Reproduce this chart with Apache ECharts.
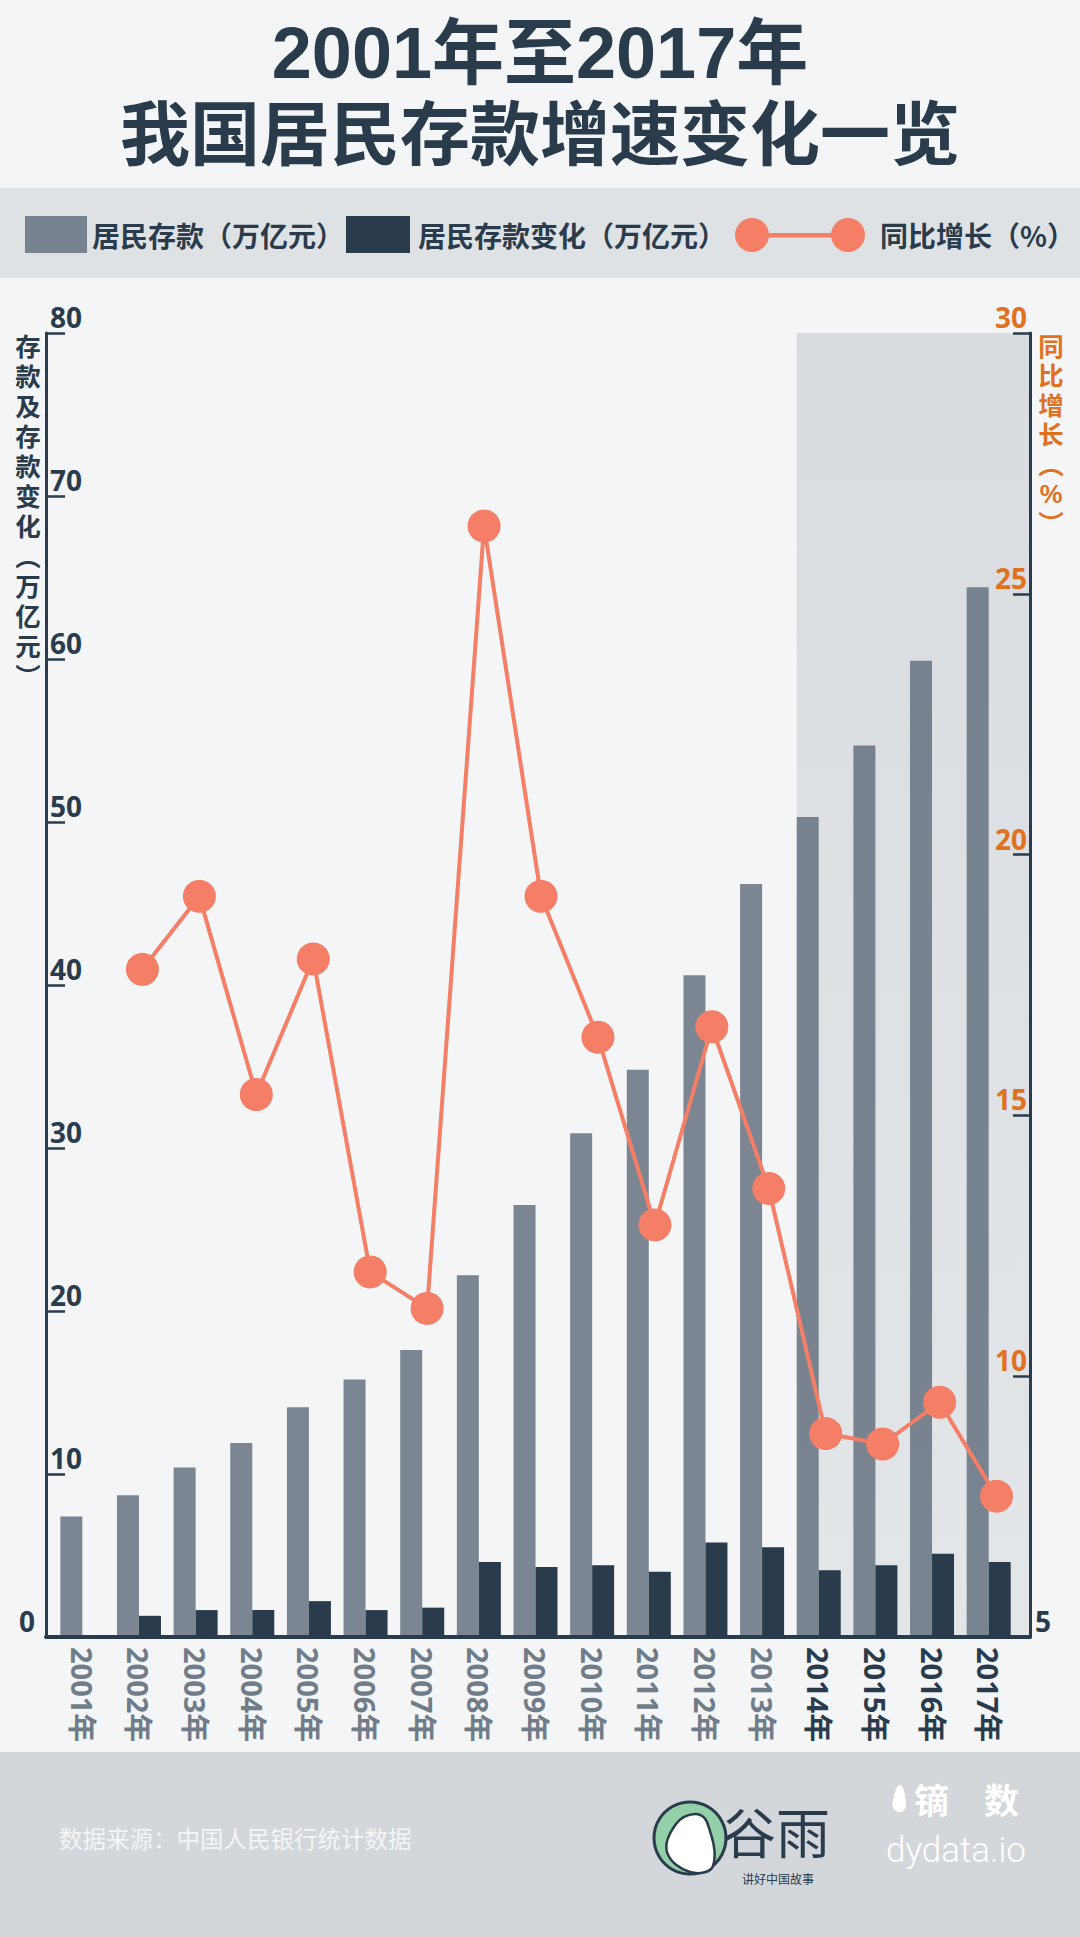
<!DOCTYPE html>
<html>
<head>
<meta charset="utf-8">
<script src="https://cdn.jsdelivr.net/npm/echarts@6/dist/echarts.min.js"></script>
<style>
html,body{margin:0;padding:0;background:#f4f5f7;}
#c{width:1080px;height:1937px;}
</style>
</head>
<body>
<div id="c"></div>
<script>
// ---------- data ----------
const years = ['2001年','2002年','2003年','2004年','2005年','2006年','2007年','2008年','2009年',
  '2010年','2011年','2012年','2013年','2014年','2015年','2016年','2017年'];
const deposits = [7.4, 8.7, 10.4, 11.9, 14.1, 15.8, 17.6, 22.2, 26.5, 30.9, 34.8, 40.6, 46.2, 50.3, 54.7, 59.9, 64.4];
const depositChange = ['-', 1.3, 1.65, 1.65, 2.2, 1.65, 1.8, 4.6, 4.3, 4.4, 4.0, 5.8, 5.5, 4.1, 4.4, 5.1, 4.6];
const yoyGrowth = ['-', 17.8, 19.2, 15.4, 18.0, 12.0, 11.3, 26.3, 19.2, 16.5, 12.9, 16.7, 13.6, 8.9, 8.7, 9.5, 7.7];
const seriesNames = ['居民存款（万亿元）', '居民存款变化（万亿元）', '同比增长（%）'];
const leftTicks = [0, 80, 10];   // min, max, interval
const rightTicks = [5, 30, 5];   // min, max, interval
const highlightYears = ['2014年','2015年','2016年','2017年'];

// ---------- styles ----------
const DARK = '#2a3b4b';
const GRAY_TXT = '#707c88';
const ORANGE = '#e0711f';
const LINE = '#f47e66';
const BAR_W = 22;
const CJK = '"Noto Sans CJK SC", "Noto Sans", sans-serif';
const TIGHT = '"Liberation Sans", "Noto Sans CJK SC", sans-serif';
const NUM = '"Noto Sans", "Noto Sans CJK SC", sans-serif';
const LINE_ICON = 'path://M17,0 A17,17 0 1,1 17,34 A17,17 0 1,1 17,0 Z M113,0 A17,17 0 1,1 113,34 A17,17 0 1,1 113,0 Z M28,15 L102,15 L102,19.5 L28,19.5 Z';

const chart = echarts.init(document.getElementById('c'), null, {renderer: 'svg', width: 1080, height: 1937});

const legendText = {color: DARK, fontSize: 28, fontWeight: 'bold', fontFamily: CJK};
const gridTop = 333, gridBottom = 300;

const option = {
  animation: false,
  backgroundColor: '#f4f5f7',
  grid: [
    {left: 54, right: 63, top: gridTop, bottom: gridBottom, containLabel: false},
    {left: 57, right: 55, top: gridTop, bottom: gridBottom, containLabel: false},
    {left: 46, right: 50, top: gridTop, bottom: gridBottom, containLabel: false}
  ],
  legend: [
    {data: [seriesNames[0]], left: 25, top: 216, padding: 0, itemWidth: 62, itemHeight: 37, icon: 'rect',
      selectedMode: false, textStyle: legendText},
    {data: [seriesNames[1]], left: 346, top: 216, padding: 0, itemWidth: 64, itemHeight: 37, icon: 'rect',
      selectedMode: false, textStyle: Object.assign({}, legendText, {padding: [0, 0, 0, 3]})},
    {data: [seriesNames[2]], left: 735, top: 218, padding: 0, itemWidth: 130, itemHeight: 34, icon: LINE_ICON,
      selectedMode: false, textStyle: Object.assign({}, legendText, {padding: [0, 0, 0, 10]})}
  ],
  xAxis: [
    {gridIndex: 0, type: 'category', data: years, boundaryGap: true, z: 10,
      axisLine: {show: false}, axisTick: {show: false}, splitLine: {show: false},
      axisLabel: {interval: 0, rotate: -90, margin: 10, fontSize: 29, fontWeight: 'bold', fontFamily: NUM,
        color: function (v) { return highlightYears.indexOf(v) >= 0 ? DARK : GRAY_TXT; }}},
    {gridIndex: 1, type: 'category', data: years, boundaryGap: true, show: false},
    {gridIndex: 2, type: 'value', min: 0, max: 1, z: 10,
      axisLine: {show: true, onZero: false, lineStyle: {color: DARK, width: 4}},
      axisTick: {show: false}, axisLabel: {show: false}, splitLine: {show: false}}
  ],
  yAxis: [
    {gridIndex: 0, type: 'value', position: 'left', offset: 8, z: 10,
      min: leftTicks[0], max: leftTicks[1], interval: leftTicks[2],
      axisLine: {show: true, lineStyle: {color: DARK, width: 3}},
      axisTick: {show: true, inside: true, length: 19, lineStyle: {color: DARK, width: 2.5}},
      splitLine: {show: false},
      axisLabel: {show: true, inside: false, margin: -36, align: 'right', verticalAlign: 'bottom',
        showMinLabel: true, showMaxLabel: true,
        color: DARK, fontSize: 28, fontWeight: 'bold', fontFamily: NUM, lineHeight: 32,
        formatter: function (v) { return v === leftTicks[0] ? '{z|' + v + '}' : String(v); },
        rich: {z: {padding: [0, 47, 0, 0], color: DARK, fontSize: 28, fontWeight: 'bold', fontFamily: NUM, lineHeight: 32}}}},
    {gridIndex: 1, type: 'value', position: 'right', offset: 5, z: 10,
      min: rightTicks[0], max: rightTicks[1], interval: rightTicks[2],
      axisLine: {show: true, lineStyle: {color: DARK, width: 3}},
      axisTick: {show: true, inside: true, length: 17, lineStyle: {color: DARK, width: 2.5}},
      splitLine: {show: false},
      axisLabel: {show: true, inside: false, margin: -35, align: 'left', verticalAlign: 'bottom',
        showMinLabel: true, showMaxLabel: true,
        color: ORANGE, fontSize: 28, fontWeight: 'bold', fontFamily: NUM, lineHeight: 32,
        formatter: function (v) { return v === rightTicks[0] ? '{d|' + v + '}' : String(v); },
        rich: {d: {padding: [0, 0, 0, 40], color: DARK, fontSize: 28, fontWeight: 'bold', fontFamily: NUM, lineHeight: 32}}}},
    {gridIndex: 2, type: 'value', min: 0, max: 1, show: false}
  ],
  series: [
    {
      type: 'custom', xAxisIndex: 0, yAxisIndex: 0, z: 1, silent: true,
      data: [[highlightYears[0], leftTicks[1]]],
      renderItem: function (params, api) {
        const top = api.coord([api.value(0), api.value(1)]);
        const base = api.coord([api.value(0), leftTicks[0]]);
        const cs = params.coordSys;
        const x0 = top[0] - BAR_W;
        const x1 = cs.x + cs.width + 13;
        return {
          type: 'rect',
          shape: {x: x0, y: top[1], width: x1 - x0, height: base[1] - top[1]},
          style: {fill: {type: 'linear', x: 0, y: 0, x2: 0, y2: 1,
            colorStops: [{offset: 0, color: '#d8dce0'}, {offset: 1, color: '#e3e6e9'}]}}
        };
      }
    },
    {name: seriesNames[0], type: 'bar', xAxisIndex: 0, yAxisIndex: 0, data: deposits,
      barWidth: BAR_W, barGap: '0%', z: 2, itemStyle: {color: '#606e7b', opacity: 0.82}},
    {name: seriesNames[1], type: 'bar', xAxisIndex: 0, yAxisIndex: 0, data: depositChange,
      barWidth: BAR_W, barGap: '0%', z: 2, itemStyle: {color: DARK}},
    {name: seriesNames[2], type: 'line', xAxisIndex: 1, yAxisIndex: 1, data: yoyGrowth,
      symbol: 'circle', symbolSize: 33, z: 5,
      lineStyle: {color: LINE, width: 4}, itemStyle: {color: LINE}}
  ],
  graphic: [
    {type: 'rect', z: -1, shape: {x: 0, y: 188, width: 1080, height: 90}, style: {fill: '#dfe2e5'}},
    {type: 'rect', z: -1, shape: {x: 0, y: 1752, width: 1080, height: 185}, style: {fill: '#d3d7db'}},
    {type: 'text', x: 540, y: 53, style: {text: '2001年至2017年', fill: DARK, fontSize: 72, fontWeight: 'bold',
      fontFamily: TIGHT, lineHeight: 80, align: 'center', verticalAlign: 'middle'}},
    {type: 'text', x: 540, y: 136, style: {text: '我国居民存款增速变化一览', fill: DARK, fontSize: 70, fontWeight: 'bold',
      fontFamily: TIGHT, lineHeight: 78, align: 'center', verticalAlign: 'middle'}},
    {type: 'text', x: 28, y: 332, style: {text: '存\n款\n及\n存\n款\n变\n化\n︵\n万\n亿\n元\n︶', fill: DARK,
      fontSize: 25.5, fontWeight: 'bold', fontFamily: TIGHT, lineHeight: 30, align: 'center', verticalAlign: 'top'}},
    {type: 'text', x: 1051, y: 332, style: {text: '同\n比\n增\n长\n︵\n%\n︶', fill: ORANGE,
      fontSize: 25.5, fontWeight: 'bold', fontFamily: TIGHT, lineHeight: 29.5, align: 'center', verticalAlign: 'top'}},
    {type: 'text', x: 59, y: 1838, style: {text: '数据来源：中国人民银行统计数据', fill: '#f3f5f7',
      fontSize: 23.5, fontFamily: CJK, align: 'left', verticalAlign: 'middle'}},
    {type: 'circle', shape: {cx: 690, cy: 1838, r: 36}, style: {fill: '#93cfa8', stroke: DARK, lineWidth: 3}},
    {type: 'polygon', shape: {smooth: 0.4, points: [[667, 1852], [676, 1824], [695, 1814], [707, 1822], [713, 1866], [690, 1872]]},
      style: {fill: '#ffffff', stroke: DARK, lineWidth: 2.5}},
    {type: 'text', x: 722, y: 1830, style: {text: '谷雨', fill: DARK, fontSize: 54, fontFamily: CJK,
      align: 'left', verticalAlign: 'middle'}},
    {type: 'text', x: 742, y: 1878, style: {text: '讲好中国故事', fill: DARK, fontSize: 12, fontFamily: CJK,
      align: 'left', verticalAlign: 'middle'}},
    {type: 'polygon', shape: {smooth: 0.5, points: [[900, 1785], [893, 1800], [895, 1810], [903, 1811], [906, 1802]]},
      style: {fill: '#ffffff'}},
    {type: 'text', x: 914, y: 1798, style: {text: '镝', fill: '#ffffff', fontSize: 35, fontWeight: 'bold', fontFamily: CJK,
      align: 'left', verticalAlign: 'middle'}},
    {type: 'text', x: 984, y: 1798, style: {text: '数', fill: '#ffffff', fontSize: 35, fontWeight: 'bold', fontFamily: CJK,
      align: 'left', verticalAlign: 'middle'}},
    {type: 'text', x: 886, y: 1850, style: {text: 'dydata.io', fill: '#ffffff', fontSize: 35, fontWeight: 300, fontFamily: 'Roboto, sans-serif',
      align: 'left', verticalAlign: 'middle'}}
  ]
};
chart.setOption(option);
</script>
</body>
</html>
